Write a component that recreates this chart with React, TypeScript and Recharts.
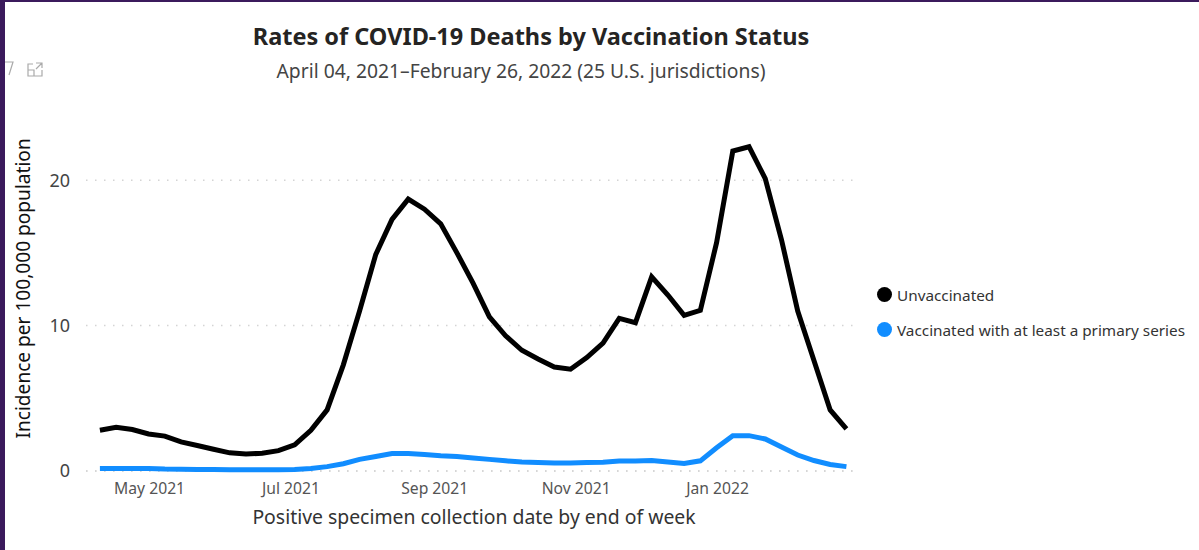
import React from 'react';
import { LineChart, Line, XAxis, YAxis, CartesianGrid, Legend, ReferenceLine } from 'recharts';

const weekEnding = [
  '2021-04-10', '2021-04-17', '2021-04-24', '2021-05-01', '2021-05-08', '2021-05-15', '2021-05-22', '2021-05-29',
  '2021-06-05', '2021-06-12', '2021-06-19', '2021-06-26', '2021-07-03', '2021-07-10', '2021-07-17', '2021-07-24',
  '2021-07-31', '2021-08-07', '2021-08-14', '2021-08-21', '2021-08-28', '2021-09-04', '2021-09-11', '2021-09-18',
  '2021-09-25', '2021-10-02', '2021-10-09', '2021-10-16', '2021-10-23', '2021-10-30', '2021-11-06', '2021-11-13',
  '2021-11-20', '2021-11-27', '2021-12-04', '2021-12-11', '2021-12-18', '2021-12-25', '2022-01-01', '2022-01-08',
  '2022-01-15', '2022-01-22', '2022-01-29', '2022-02-05', '2022-02-12', '2022-02-19', '2022-02-26',
];
const unvaccinated = [
  2.8, 3.0, 2.85, 2.55, 2.4, 2.0, 1.75, 1.5, 1.25, 1.17, 1.22, 1.4, 1.8, 2.8, 4.2, 7.3,
  11, 14.9, 17.3, 18.7, 18.0, 17.0, 15, 12.9, 10.6, 9.3, 8.3, 7.7, 7.15, 7.0, 7.8, 8.8,
  10.5, 10.2, 13.35, 12.1, 10.7, 11.05, 15.7, 22.0, 22.3, 20.1, 15.9, 11, 7.6, 4.2, 2.9,
];
const vaccinated = [
  0.17, 0.18, 0.18, 0.17, 0.13, 0.12, 0.11, 0.1, 0.09, 0.09, 0.09, 0.09, 0.1, 0.17, 0.3, 0.5,
  0.8, 1.0, 1.2, 1.2, 1.13, 1.05, 1.0, 0.9, 0.8, 0.7, 0.62, 0.58, 0.55, 0.55, 0.58, 0.6,
  0.68, 0.68, 0.72, 0.62, 0.52, 0.7, 1.6, 2.42, 2.43, 2.2, 1.65, 1.1, 0.72, 0.45, 0.3,
];
const monthTicks = ['2021-05-01', '2021-07-01', '2021-09-01', '2021-11-01', '2022-01-01'];
const monthLabels = ['May 2021', 'Jul 2021', 'Sep 2021', 'Nov 2021', 'Jan 2022'];
const xDomain = ['2021-04-04', '2022-03-03'];
const yTicks = [0, 10, 20];

const data = weekEnding.map((d, i) => ({
  date: Date.parse(d),
  unvaccinated: unvaccinated[i],
  vaccinated: vaccinated[i],
}));
const tickTimes = monthTicks.map((d) => Date.parse(d));

const FONT = '"Noto Sans", "Open Sans", sans-serif';

const LegendList = ({ payload }: any) => (
  <div style={{ fontFamily: FONT, fontSize: 15.3, color: '#333' }}>
    {(payload || []).map((p: any) => (
      <div key={p.value} style={{ display: 'flex', alignItems: 'center', height: 35, whiteSpace: 'nowrap' }}>
        <span style={{ width: 15, height: 15, borderRadius: '50%', background: p.color, marginRight: 5, flex: 'none' }} />
        <span>{p.value}</span>
      </div>
    ))}
  </div>
);

export default function App() {
  return (
    <div style={{ position: 'absolute', left: 0, top: 0, width: 1199, height: 550, background: '#fff', overflow: 'hidden', fontFamily: FONT }}>
      <div style={{ position: 'absolute', left: 0, top: 0, width: 1199, height: 2, background: '#3b1a5c' }} />
      <div style={{ position: 'absolute', left: 0, top: 0, width: 5, height: 550, background: '#3b1a5c' }} />

      <svg width={50} height={24} style={{ position: 'absolute', left: 0, top: 58 }} fill="none" stroke="#aaa" strokeWidth={1.2}>
        <path d="M5 4 H13 L9 17" />
        <path d="M33 6 H28 V18 H42 V12 M28 12 H34 V18 M36 5 H42 V10 M42 5 L36 11" />
      </svg>

      <div style={{ position: 'absolute', left: 131, width: 800, top: 19, textAlign: 'center', fontSize: 23.5, fontWeight: 700, lineHeight: '34px', color: '#252423' }}>
        Rates of COVID-19 Deaths by Vaccination Status
      </div>
      <div style={{ position: 'absolute', left: 131, width: 780, top: 56, textAlign: 'center', fontSize: 19.3, lineHeight: '30px', color: '#444' }}>
        April 04, 2021–February 26, 2022 (25 U.S. jurisdictions)
      </div>

      <div style={{ position: 'absolute', left: 0, top: 0 }}>
        <LineChart width={1199} height={550} data={data} margin={{ top: 122, right: 21, bottom: 0, left: 0 }}>
          <CartesianGrid vertical={false} horizontalValues={yTicks} stroke="#d4d4d4" strokeWidth={1.5} strokeDasharray="1.5 7.5" />
          <XAxis
            dataKey="date"
            type="number"
            scale="time"
            domain={xDomain.map((d) => Date.parse(d))}
            ticks={tickTimes}
            tickFormatter={(t: number) => monthLabels[tickTimes.indexOf(t)]}
            axisLine={false}
            tickLine={false}
            tickMargin={6}
            height={79}
            tick={{ fill: '#555', fontSize: 15.7, fontFamily: FONT, dx: 1 }}
            label={{ value: 'Positive specimen collection date by end of week', position: 'insideBottom', offset: 26, dx: 2, fill: '#333', fontSize: 19.4, fontFamily: FONT }}
          />
          <YAxis
            type="number"
            domain={[0, 24]}
            ticks={yTicks}
            width={86}
            axisLine={false}
            tickLine={false}
            tickMargin={10}
            tick={{ fill: '#444', fontSize: 18, fontFamily: FONT }}
            label={{ value: 'Incidence per 100,000 population', angle: -90, position: 'insideLeft', offset: 23, dy: 142, fill: '#111', fontSize: 19.1, fontFamily: FONT, style: { textAnchor: 'start' } }}
          />
          <ReferenceLine y={0} stroke="#d4d4d4" strokeWidth={1.5} strokeDasharray="1.5 7.5" />
          <Legend
            layout="vertical"
            align="right"
            verticalAlign="top"
            wrapperStyle={{ left: 877, top: 277, width: 320 }}
            content={<LegendList />}
          />
          <Line name="Unvaccinated" dataKey="unvaccinated" stroke="#000" strokeWidth={5} dot={false} activeDot={false} isAnimationActive={false} legendType="circle" />
          <Line name="Vaccinated with at least a primary series" dataKey="vaccinated" stroke="#118DFF" strokeWidth={5} dot={false} activeDot={false} isAnimationActive={false} legendType="circle" />
        </LineChart>
      </div>
    </div>
  );
}
